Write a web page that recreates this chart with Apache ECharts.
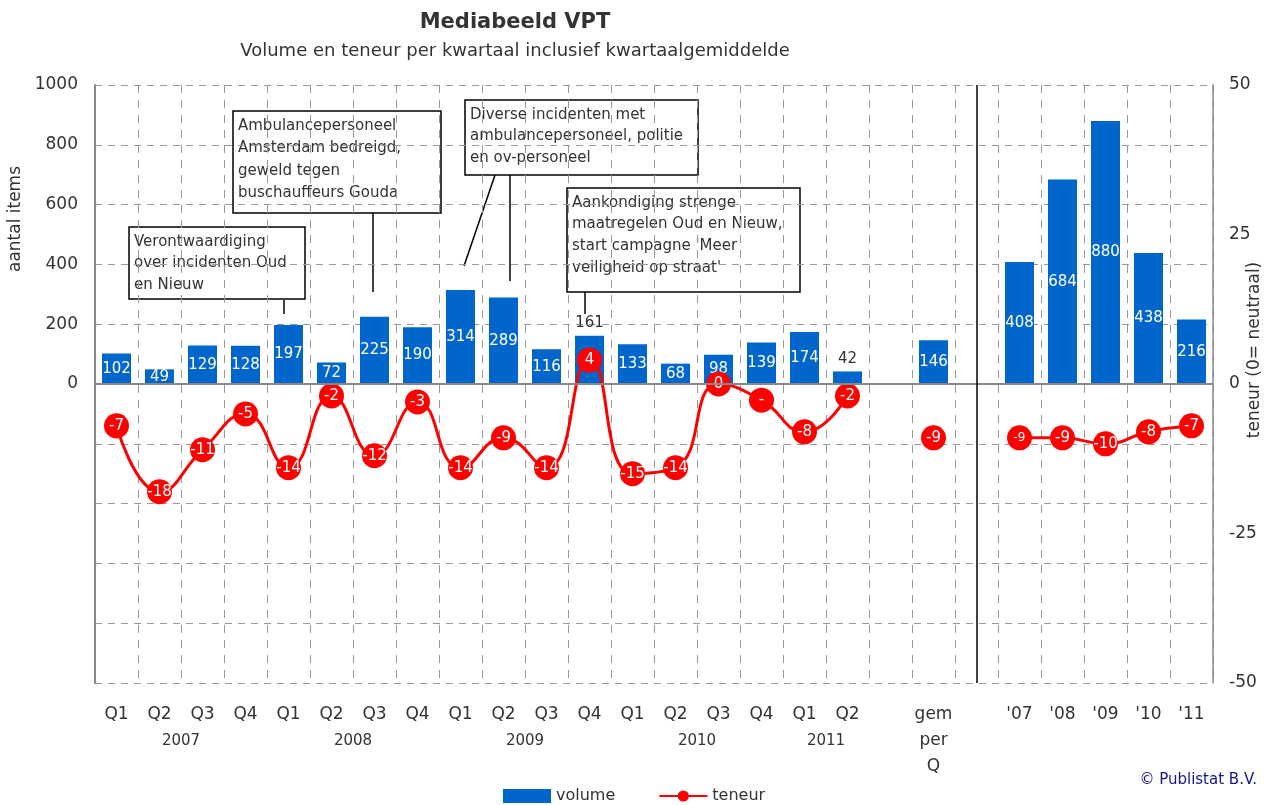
<!DOCTYPE html>
<html>
<head>
<meta charset="utf-8">
<title>Mediabeeld VPT</title>
<script src="https://cdn.jsdelivr.net/npm/echarts@6/dist/echarts.min.js"></script>
<style>
html,body{margin:0;padding:0;background:#fff;}
#chart{width:1270px;height:805px;}
</style>
</head>
<body>
<div id="chart"></div>
<script>
// kwartalen 2007 - Q2 2011, gemiddelde per kwartaal, jaren
var categories = ['Q1','Q2','Q3','Q4','Q1','Q2','Q3','Q4','Q1','Q2','Q3','Q4','Q1','Q2','Q3','Q4','Q1','Q2','','gem\nper\nQ','',"'07","'08","'09","'10","'11"];
var volume = [102,49,129,128,197,72,225,190,314,289,116,161,133,68,98,139,174,42,null,146,null,408,684,880,438,216];
var teneur = [-7,-18,-11,-5,-14,-2,-12,-3,-14,-9,-14,4,-15,-14,0,-2.7,-8,-2,null,-9,null,-9,-9,-10,-8,-7];
var years = ['2007','2008','2009','2010','2011'];
var yearCenters = [2,6,10,14,17];

var FONT = 'DejaVu Sans';

var barData = [];
for(var i=0;i<volume.length;i++){
    var item = {value: volume[i]};
    // kleine balken: label boven de balk
    if(i == 11 || i == 17){
        item.label = {position:'top', color:'#333', distance:5};
    }
    barData.push(item);
}

var lineData = [];
for(var j=0;j<teneur.length;j++){
    var p = {value: teneur[j]};
    if(j == 21){
        p.label = {fontSize: 12};
    }
    lineData.push(p);
}

function note(x, y, w, h, text, lh){
    return {
        type: 'group',
        children: [
            {type:'rect', shape:{x:x, y:y, width:w, height:h},
             style:{fill:'#fff', stroke:'#000', lineWidth:1.5}},
            {type:'text', x:x+5, y:y+4,
             style:{text:text, font:'15px ' + FONT, fill:'#333', lineHeight:lh, verticalAlign:'top'}}
        ]
    };
}
function lead(x1, y1, x2, y2){
    return {type:'line', shape:{x1:x1, y1:y1, x2:x2, y2:y2}, style:{stroke:'#000', lineWidth:1.5}};
}

var myChart = echarts.init(document.getElementById('chart'));

var option = {
    backgroundColor: '#fff',
    animation: false,
    title: {
        text: 'Mediabeeld VPT',
        subtext: 'Volume en teneur per kwartaal inclusief kwartaalgemiddelde',
        left: 510,
        top: 7,
        textAlign: 'center',
        itemGap: 9,
        textStyle: {fontFamily: FONT, fontSize: 21, fontWeight: 'bold', color: '#333'},
        subtextStyle: {fontFamily: FONT, fontSize: 18, color: '#333'}
    },
    legend: {
        left: 498,
        top: 783,
        itemWidth: 48,
        itemHeight: 14,
        itemGap: 43,
        textStyle: {fontFamily: FONT, fontSize: 16, color: '#333'},
        data: [{name: 'volume', icon: 'rect'}, 'teneur']
    },
    grid: {left: 95, right: 57, top: 85, bottom: 122, containLabel: false},
    xAxis: [{
        type: 'category',
        data: categories,
        axisLine: {show: false},
        axisTick: {show: false},
        axisLabel: {interval: 0, fontFamily: FONT, fontSize: 17, color: '#333', lineHeight: 26, margin: 19},
        splitLine: {show: true, interval: 0, lineStyle: {color: '#999', type: [8, 7], width: 1}}
    }, {
        type: 'value',
        min: 0,
        max: categories.length,
        position: 'bottom',
        axisLine: {show: false},
        axisTick: {show: false},
        splitLine: {show: false},
        axisLabel: {
            customValues: yearCenters,
            fontFamily: FONT, fontSize: 15, color: '#333', margin: 51,
            formatter: function(v){
                var k = yearCenters.indexOf(v);
                return k >= 0 ? years[k] : '';
            }
        }
    }],
    yAxis: [{
        type: 'value',
        min: -1000,
        max: 1000,
        interval: 200,
        axisLine: {show: true, lineStyle: {color: '#888', width: 2}},
        axisTick: {show: false},
        axisLabel: {
            fontFamily: FONT, fontSize: 17, color: '#333', margin: 17,
            formatter: function(v){ return v >= 0 ? v : ''; }
        },
        splitLine: {show: true, lineStyle: {color: '#999', type: [7, 6], width: 1}}
    }, {
        type: 'value',
        min: -50,
        max: 50,
        interval: 25,
        position: 'right',
        axisLine: {show: true, lineStyle: {color: '#888', width: 1.5}},
        axisTick: {show: false},
        splitLine: {show: false},
        axisLabel: {fontFamily: FONT, fontSize: 17, color: '#333', margin: 16}
    }],
    series: [{
        name: 'volume',
        type: 'bar',
        xAxisIndex: 0,
        yAxisIndex: 0,
        data: barData,
        barWidth: 29,
        itemStyle: {color: '#0066CC'},
        label: {show: true, position: 'inside', color: '#fff', fontFamily: FONT, fontSize: 15},
        markLine: {
            silent: true,
            symbol: 'none',
            label: {show: false},
            data: [
                {yAxis: 0, lineStyle: {color: '#888', type: 'solid', width: 2}},
                {xAxis: 20, lineStyle: {color: '#000', type: 'solid', width: 1.5}}
            ]
        },
        z: 2
    }, {
        name: 'teneur',
        type: 'line',
        xAxisIndex: 0,
        yAxisIndex: 1,
        data: lineData,
        smooth: 0.5,
        connectNulls: false,
        showSymbol: true,
        showAllSymbol: true,
        symbol: 'circle',
        symbolSize: 25,
        lineStyle: {color: '#FF0000', width: 3},
        itemStyle: {color: '#FF0000'},
        label: {
            show: true, position: 'inside', color: '#fff', fontFamily: FONT, fontSize: 15,
            formatter: function(p){ return p.dataIndex == 15 ? '-' : p.value; }
        },
        z: 3
    }],
    graphic: [
        {type:'text', x:16, y:219, rotation: Math.PI/2,
         style:{text:'aantal items', font:'17px ' + FONT, fill:'#333', align:'center', verticalAlign:'middle'}},
        {type:'text', x:1255, y:350, rotation: Math.PI/2,
         style:{text:'teneur (0= neutraal)', font:'17px ' + FONT, fill:'#333', align:'center', verticalAlign:'middle'}},
        {type:'text', x:1257, y:780,
         style:{text:'\u00a9 Publistat B.V.', font:'15px ' + FONT, fill:'#14148c', align:'right', verticalAlign:'middle'}},
        lead(284, 300, 284, 314),
        lead(373, 213, 373, 292),
        lead(495, 175, 464, 266),
        lead(510, 175, 510, 281),
        lead(585, 292, 585, 314),
        note(129, 227, 176, 72, 'Verontwaardiging\nover incidenten Oud\nen Nieuw', 21.5),
        note(233, 111, 208, 102, 'Ambulancepersoneel\nAmsterdam bedreigd,\ngeweld tegen\nbuschauffeurs Gouda', 22.3),
        note(465, 100, 233, 75, 'Diverse incidenten met\nambulancepersoneel, politie\nen ov-personeel', 21.5),
        note(567, 188, 233, 104, "Aankondiging strenge\nmaatregelen Oud en Nieuw,\nstart campagne 'Meer\nveiligheid op straat'", 21.7)
    ]
};

myChart.setOption(option);
</script>
</body>
</html>
